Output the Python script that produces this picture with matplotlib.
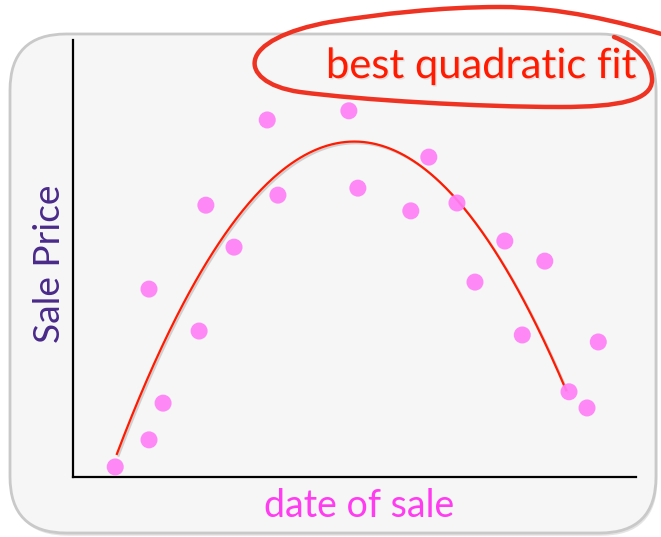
import matplotlib.pyplot as plt
import matplotlib.patheffects as pe
from matplotlib.patches import FancyBboxPatch, PathPatch
from matplotlib.path import Path
import numpy as np

W, H = 661, 537

# sales: date of sale vs sale price (arbitrary units, 0-100)
sale_date = [7.5, 13.5, 13.5, 16.0, 22.4, 23.6, 28.6, 34.5, 36.4, 49.0, 50.6,
             60.0, 63.2, 68.2, 71.4, 76.7, 79.8, 83.8, 88.1, 91.3, 93.3]
sale_price = [2.3, 8.5, 43.0, 16.9, 33.4, 62.2, 52.6, 81.7, 64.5, 83.8, 66.1,
              60.9, 73.2, 62.7, 44.6, 54.0, 32.5, 49.4, 19.5, 15.8, 30.9]

# points along the fitted curve
fit_date = [7.8, 12.4, 17.2, 22.6, 25.6, 32.7, 38.5, 44.4, 48.7, 54.5, 60.4,
            68.2, 74.1, 81.2, 87.6]
fit_price = [3.9, 19.2, 34.3, 47.4, 54.2, 65.7, 71.9, 75.5, 76.7, 75.3, 71.4,
             62.7, 51.9, 38.2, 21.1]


def fx(px):
    return px / W


def fy(py):
    return 1 - py / H


fig = plt.figure(figsize=(W / 100, H / 100), dpi=100)
fig.patch.set_facecolor('white')

# rounded panel behind the chart
panel = FancyBboxPatch((fx(10), fy(533)), fx(656) - fx(10), fy(34) - fy(533),
                       boxstyle='round,pad=0,rounding_size=0.085',
                       transform=fig.transFigure, facecolor='#f6f6f6',
                       edgecolor='#c9c9c9', linewidth=2, zorder=-5,
                       mutation_aspect=W / H,
                       path_effects=[pe.SimplePatchShadow(offset=(1, -2), alpha=0.15),
                                     pe.Normal()])
fig.patches.append(panel)

ax = fig.add_axes([fx(73), fy(477), fx(636) - fx(73), fy(40) - fy(477)])
ax.set_facecolor('none')
ax.set_xlim(0, 100)
ax.set_ylim(0, 100)
for side in ['top', 'right']:
    ax.spines[side].set_visible(False)
for side in ['left', 'bottom']:
    ax.spines[side].set_linewidth(1.6)
    ax.spines[side].set_color('black')
ax.set_xticks([])
ax.set_yticks([])

coef = np.polyfit(fit_date, fit_price, 2)
xs = np.linspace(fit_date[0], fit_date[-1], 300)
ax.plot(xs, np.polyval(coef, xs), color='#ff1a00', linewidth=1.6, zorder=2,
        path_effects=[pe.SimpleLineShadow(offset=(1.2, -1.2), shadow_color='#888888', alpha=0.35),
                      pe.Normal()])
ax.scatter(sale_date, sale_price, s=150, color='#ff7ff7', alpha=0.92,
           edgecolors='none', zorder=3, clip_on=False)

fig.text(fx(33), fy(264), 'Sale Price', rotation=90, ha='left', va='center',
         fontsize=26.7, color='#4a2a8a', family='Lato')
fig.text(fx(359), fy(517), 'date of sale', ha='center', va='baseline',
         fontsize=27, color='#ff3cf0', family='Lato')
fig.text(fx(481), fy(78), 'best quadratic fit', ha='center', va='baseline',
         fontsize=30, color='#ff1a00', family='Lato',
         path_effects=[pe.withSimplePatchShadow(offset=(1, -1), alpha=0.1)])

# hand drawn loop round the label
loop_pts = [(614, 37),
            (635, 45), (652, 62), (652, 80),
            (652, 100), (620, 107), (560, 107),
            (480, 107), (360, 100), (300, 92),
            (265, 87), (252, 72), (255, 60),
            (258, 45), (285, 30), (330, 22),
            (380, 14), (440, 7), (500, 7),
            (560, 7), (620, 22), (665, 35)]
codes = [Path.MOVETO] + [Path.CURVE4] * (len(loop_pts) - 1)
loop = Path([(fx(x), fy(y)) for x, y in loop_pts], codes)
fig.patches.append(PathPatch(loop, transform=fig.transFigure, facecolor='none',
                             edgecolor='#ee3322', linewidth=3.2, capstyle='round'))

fig.savefig('out.png', dpi=100)
